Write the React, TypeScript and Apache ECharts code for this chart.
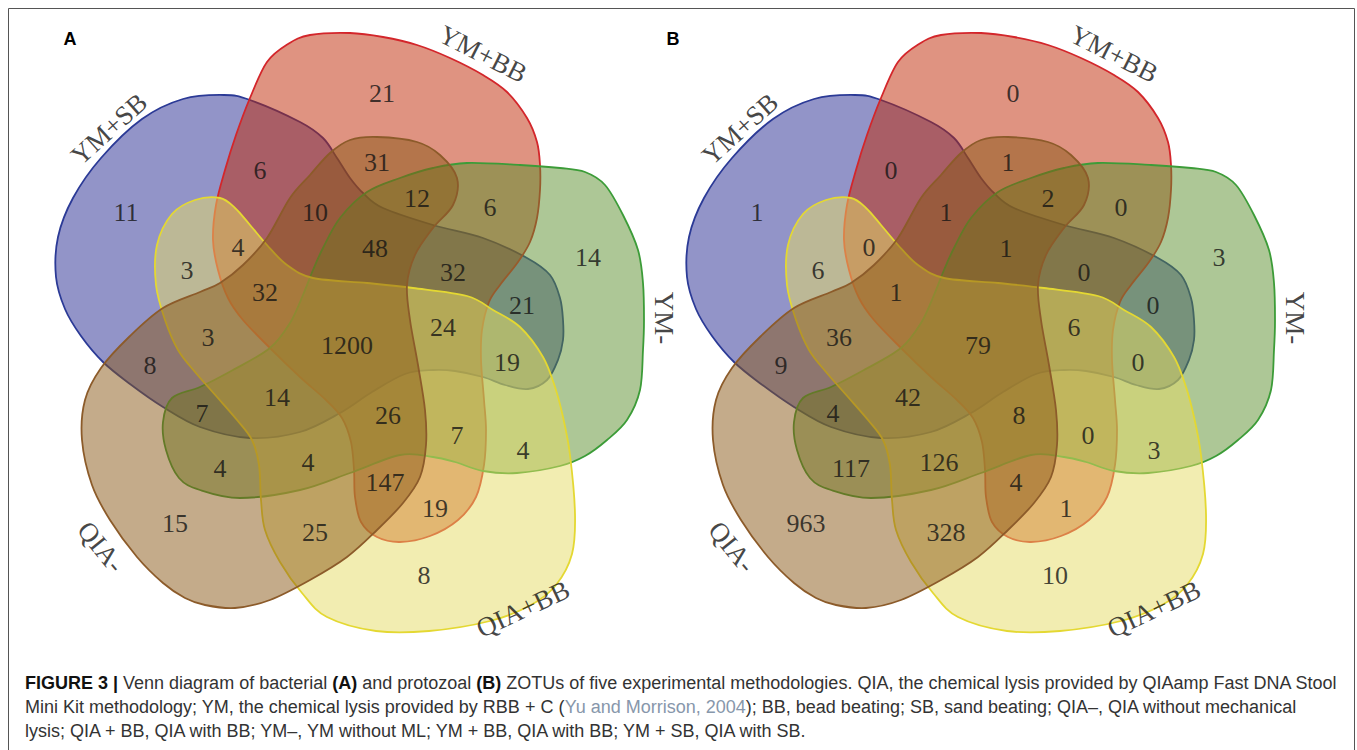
import React, { useEffect, useRef } from "react";
import * as echarts from "echarts";

const W = 1357;
const H = 750;
const PANEL_B_DX = 631;

// ---------- data ----------
const setNames = ["YM+SB", "YM+BB", "YM-", "QIA+BB", "QIA-"];

// counts for the 31 regions (same region order in both panels)
const bacterialCounts = [
  11, 6, 21, 31, 10, 12, 6, 4, 3, 48, 32, 14, 32, 21, 3, 1200, 24, 19, 8, 14,
  26, 7, 7, 4, 4, 4, 147, 19, 15, 25, 8,
];
const protozoalCounts = [
  1, 0, 0, 1, 1, 2, 0, 0, 6, 1, 0, 3, 1, 0, 36, 79, 6, 0, 9, 42, 8, 4, 0, 3,
  117, 126, 4, 1, 963, 328, 10,
];

// ---------- layout ----------
const regionAnchors: number[][] = [
  [126, 212], [260, 170], [382, 93], [377, 162], [315, 212], [417, 198],
  [490, 207], [238, 247], [187, 270], [375, 248], [453, 272], [588, 257],
  [265, 292], [522, 305], [208, 337], [347, 345], [443, 327], [507, 362],
  [150, 365], [277, 397], [388, 415], [202, 413], [457, 435], [523, 450],
  [220, 468], [308, 462], [385, 482], [435, 508], [175, 523], [315, 532],
  [424, 575],
];
const setLabelAnchors: number[][] = [
  [109, 129, 42],
  [483, 54, -27],
  [664, 318, -90],
  [523, 609, 25],
  [101, 547, -51],
];

const fills = [
  "rgba(38,42,146,0.5)",
  "rgba(192,40,4,0.5)",
  "rgba(92,144,46,0.5)",
  "rgba(230,220,100,0.5)",
  "rgba(138,88,22,0.5)",
];
const strokes = ["#2B3A96", "#D3262B", "#3C9C38", "#E4D832", "#8C5B2A"];

const outlineBlue = [
  [224, 95], [250, 100], [300, 122], [323, 138], [337, 158], [350, 178],
  [363, 193], [383, 208], [433, 225], [483, 238], [527, 258], [550, 275],
  [560, 298], [563, 320], [563, 340], [558, 360], [547, 380], [528, 389],
  [505, 385], [483, 377], [455, 371], [433, 370], [405, 374], [372, 392],
  [340, 413], [300, 432], [250, 438], [200, 427], [163, 407], [130, 384],
  [103, 362], [81, 336], [65, 309], [56, 277], [58, 237], [73, 198],
  [101, 158], [142, 119], [183, 99],
];
const outlineRed = [
  [310, 35], [350, 33], [383, 37], [417, 45], [450, 58], [483, 75],
  [507, 92], [527, 118], [537, 142], [540, 165], [540, 190], [537, 218],
  [530, 242], [518, 262], [500, 285], [489, 302], [482, 330], [481, 360],
  [484, 400], [486, 430], [484, 465], [476, 497], [458, 520], [430, 536],
  [400, 542], [377, 537], [361, 522], [355, 497], [354, 470], [351, 442],
  [342, 418], [326, 400], [300, 377], [270, 348], [243, 320], [228, 298],
  [218, 270], [213, 240], [216, 205], [225, 170], [236, 135], [250, 98],
  [267, 62], [288, 44],
];
const outlineGreen = [
  [467, 163], [520, 165], [560, 168], [585, 172], [605, 185], [623, 215],
  [638, 250], [643, 283], [644, 320], [643, 350], [640, 390], [627, 420],
  [607, 440], [585, 456], [560, 466], [517, 473], [483, 471], [455, 462],
  [433, 457], [400, 455], [350, 473], [300, 490], [240, 498], [200, 490],
  [179, 478], [166, 450], [163, 422], [172, 398], [200, 387], [233, 370],
  [270, 348], [290, 323], [303, 295], [313, 270], [323, 248], [340, 218],
  [367, 192], [400, 178], [433, 168],
];
const outlineYellow = [
  [195, 200], [220, 198], [235, 208], [250, 225], [267, 245], [287, 265],
  [313, 278], [367, 283], [413, 288], [467, 296], [493, 310], [520, 327],
  [543, 357], [555, 387], [563, 417], [570, 455], [575, 514], [572, 554],
  [556, 585], [531, 605], [490, 621], [429, 631], [376, 631], [327, 617],
  [302, 593], [280, 562], [265, 530], [261, 500], [259, 465], [252, 440],
  [237, 420], [217, 397], [195, 372], [178, 350], [165, 320], [156, 285],
  [157, 245], [172, 214],
];
const outlineBrown = [
  [350, 140], [377, 137], [417, 142], [440, 155], [457, 178], [453, 205],
  [433, 228], [415, 255], [407, 285], [410, 320], [418, 365], [425, 410],
  [426, 445], [420, 477], [403, 503], [377, 530], [347, 557], [310, 580],
  [270, 600], [235, 608], [205, 605], [185, 598], [163, 583], [137, 557],
  [110, 520], [92, 485], [82, 440], [85, 400], [101, 368], [130, 336],
  [163, 308], [200, 292], [220, 283], [243, 265], [267, 238], [290, 198],
  [310, 175], [330, 153],
];
const outlines = [outlineBlue, outlineRed, outlineGreen, outlineYellow, outlineBrown];

function smoothClosedPath(pts: number[][]): string {
  const n = pts.length;
  const f = (v: number) => v.toFixed(2);
  let d = `M${f(pts[0][0])},${f(pts[0][1])}`;
  for (let i = 0; i < n; i++) {
    const p0 = pts[(i - 1 + n) % n];
    const p1 = pts[i];
    const p2 = pts[(i + 1) % n];
    const p3 = pts[(i + 2) % n];
    const c1x = p1[0] + (p2[0] - p0[0]) / 6;
    const c1y = p1[1] + (p2[1] - p0[1]) / 6;
    const c2x = p2[0] - (p3[0] - p1[0]) / 6;
    const c2y = p2[1] - (p3[1] - p1[1]) / 6;
    d += `C${f(c1x)},${f(c1y)} ${f(c2x)},${f(c2y)} ${f(p2[0])},${f(p2[1])}`;
  }
  return d + "Z";
}

const numberFont = "'Liberation Serif', 'Times New Roman', serif";
const sansFont = "'Liberation Sans', Arial, Helvetica, sans-serif";
const CAPTION_SIZE = 18;

export default function App() {
  const ref = useRef<HTMLDivElement>(null);

  useEffect(() => {
    if (!ref.current) return;
    const chart = echarts.init(ref.current, null, { renderer: "svg" });

    const panels = [
      { dx: 0, counts: bacterialCounts },
      { dx: PANEL_B_DX, counts: protozoalCounts },
    ];

    const shapeData: number[][] = [];
    panels.forEach((p, pi) => setNames.forEach((_, si) => shapeData.push([si, pi])));

    const countData: any[] = [];
    panels.forEach((p) =>
      p.counts.forEach((c, i) =>
        countData.push({
          name: String(c),
          value: [regionAnchors[i][0] + p.dx, regionAnchors[i][1]],
        })
      )
    );

    const setLabelData: any[] = [];
    panels.forEach((p) =>
      setNames.forEach((nm, i) =>
        setLabelData.push({
          name: nm,
          value: [setLabelAnchors[i][0] + p.dx, setLabelAnchors[i][1]],
          label: { rotate: setLabelAnchors[i][2] },
        })
      )
    );

    const captionBase = {
      fontFamily: sansFont,
      fontSize: CAPTION_SIZE,
      fill: "#333333",
      verticalAlign: "middle",
      align: "left",
    };
    const rich = {
      b: { fontFamily: sansFont, fontSize: CAPTION_SIZE, fontWeight: "bold", fill: "#111111" },
      l: { fontFamily: sansFont, fontSize: CAPTION_SIZE, fill: "#8797ab" },
    };

    chart.setOption({
      animation: false,
      grid: { left: 0, top: 0, width: W, height: H, containLabel: false },
      xAxis: { type: "value", min: 0, max: W, show: false },
      yAxis: { type: "value", min: 0, max: H, inverse: true, show: false },
      graphic: [
        {
          type: "rect",
          shape: { x: 8.5, y: 8.5, width: 1346, height: 800 },
          style: { fill: "none", stroke: "#555555", lineWidth: 1 },
          silent: true,
        },
        {
          type: "text",
          style: { text: "A", x: 70, y: 39, fontFamily: sansFont, fontSize: 18, fontWeight: "bold", fill: "#000", align: "center", verticalAlign: "middle" },
        },
        {
          type: "text",
          style: { text: "B", x: 673, y: 39, fontFamily: sansFont, fontSize: 18, fontWeight: "bold", fill: "#000", align: "center", verticalAlign: "middle" },
        },
        {
          type: "text",
          style: {
            ...captionBase,
            x: 25,
            y: 683,
            text: "{b|FIGURE 3 |} Venn diagram of bacterial {b|(A)} and protozoal {b|(B)} ZOTUs of five experimental methodologies. QIA, the chemical lysis provided by QIAamp Fast DNA Stool",
            rich,
          },
        },
        {
          type: "text",
          style: {
            ...captionBase,
            x: 25,
            y: 707,
            text: "Mini Kit methodology; YM, the chemical lysis provided by RBB + C ({l|Yu and Morrison, 2004}); BB, bead beating; SB, sand beating; QIA–, QIA without mechanical",
            rich,
          },
        },
        {
          type: "text",
          style: {
            ...captionBase,
            x: 25,
            y: 731,
            text: "lysis; QIA + BB, QIA with BB; YM–, YM without ML; YM + BB, QIA with BB; YM + SB, QIA with SB.",
            rich,
          },
        },
      ],
      series: [
        {
          type: "custom",
          coordinateSystem: "cartesian2d",
          silent: true,
          data: shapeData,
          renderItem: (params: any, api: any) => {
            const si = api.value(0);
            const pi = api.value(1);
            const dx = panels[pi].dx;
            const pts = outlines[si].map((p) => api.coord([p[0] + dx, p[1]]));
            return {
              type: "path",
              shape: { pathData: smoothClosedPath(pts) },
              style: { fill: fills[si], stroke: strokes[si], lineWidth: 1.8 },
            };
          },
          z: 2,
        },
        {
          type: "scatter",
          silent: true,
          symbolSize: 1,
          itemStyle: { color: "rgba(0,0,0,0)" },
          data: countData,
          label: {
            show: true,
            position: "inside",
            formatter: "{b}",
            fontFamily: numberFont,
            fontSize: 26,
            color: "#141414",
          },
          z: 5,
        },
        {
          type: "scatter",
          silent: true,
          symbolSize: 1,
          itemStyle: { color: "rgba(0,0,0,0)" },
          data: setLabelData,
          label: {
            show: true,
            position: "inside",
            formatter: "{b}",
            fontFamily: numberFont,
            fontSize: 27,
            color: "#141414",
          },
          z: 5,
        },
      ],
    });

    return () => chart.dispose();
  }, []);

  return (
    <div
      ref={ref}
      style={{ position: "fixed", left: 0, top: 0, width: W, height: H, background: "#ffffff" }}
    />
  );
}
